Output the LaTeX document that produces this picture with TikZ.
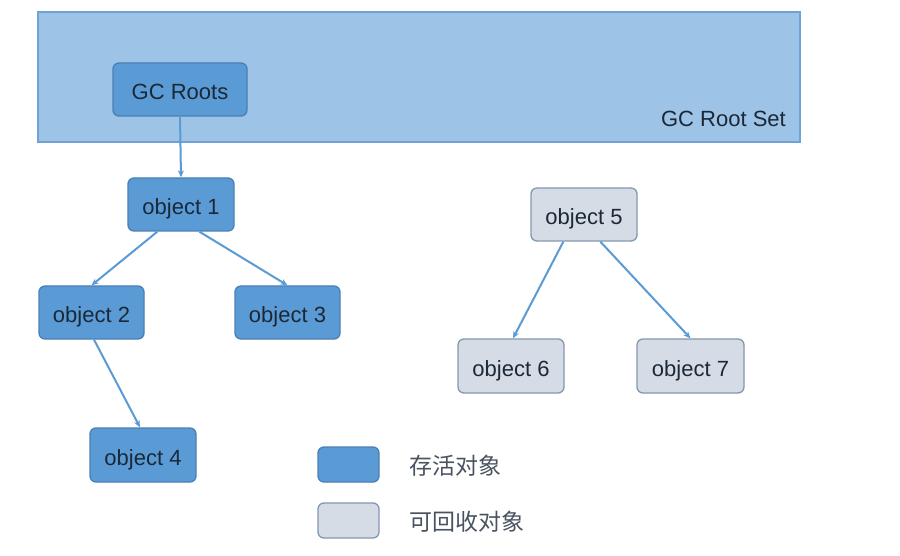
\documentclass[tikz,border=0pt]{standalone}
\usepackage{fontspec}
\setmainfont{Liberation Sans}
\newfontfamily\cjk{Noto Sans CJK SC}
\usetikzlibrary{arrows.meta}
\definecolor{liveF}{HTML}{5B9BD5}
\definecolor{liveD}{HTML}{4A80B4}
\definecolor{deadF}{HTML}{D6DCE5}
\definecolor{deadD}{HTML}{8497B0}
\definecolor{setF}{HTML}{9DC3E6}
\definecolor{setD}{HTML}{6FA3D6}
\definecolor{txt}{HTML}{1B2838}
\tikzset{
  box/.style={rounded corners=6pt, line width=1.3pt, inner sep=0pt, text=txt,
    font=\fontsize{22}{26}\selectfont, text height=20pt, text depth=0pt},
  live/.style={box, fill=liveF, draw=liveD},
  dead/.style={box, fill=deadF, draw=deadD},
  conn/.style={draw=liveF, line width=2pt, -{Stealth[length=7pt,width=6pt]}},
}
\begin{document}
\begin{tikzpicture}[x=1pt,y=-1pt]
\useasboundingbox (0,0) rectangle (900,556);
\fill[white] (0,0) rectangle (900,556);
% root set
\node[fill=setF, draw=setD, line width=1.3pt, minimum width=762pt, minimum height=130pt, inner sep=0pt] (set) at (419,77) {};
\node[anchor=east, text=txt, font=\fontsize{22}{26}\selectfont, inner sep=0pt] (setlbl) at (786,119) {GC Root Set};
% nodes
\node[live, minimum width=134pt, minimum height=53pt] (roots) at (180,89.5) {GC Roots};
\node[live, minimum width=106pt, minimum height=53pt] (o1) at (181,204.5) {object 1};
\node[live, minimum width=105pt, minimum height=53pt] (o2) at (91.5,312.5) {object 2};
\node[live, minimum width=105pt, minimum height=53pt] (o3) at (287.5,312.5) {object 3};
\node[live, minimum width=106pt, minimum height=54pt] (o4) at (143,455) {object 4};
\node[dead, minimum width=106pt, minimum height=53pt] (o5) at (584,214.5) {object 5};
\node[dead, minimum width=106pt, minimum height=54pt] (o6) at (511,366) {object 6};
\node[dead, minimum width=107pt, minimum height=54pt] (o7) at (690.5,366) {object 7};
% connector end points
\path (o1.south west) ++(30,0) coordinate (s12);
\path (o2.north) coordinate (e12);
\path (o1.south west) ++(72,0) coordinate (s13);
\path (o3.north) coordinate (e13);
\path (o2.south) ++(2.5,0) coordinate (s24);
\path (o4.north) ++(-3,0) coordinate (e24);
\path (o5.south west) ++(33,0) coordinate (s56);
\path (o6.north) ++(2,0) coordinate (e56);
\path (o5.south west) ++(70,0) coordinate (s57);
\path (o7.north) coordinate (e57);
% connectors
\draw[conn] (roots.south) -- (o1.north);
\draw[conn] (s12) -- (e12);
\draw[conn] (s13) -- (e13);
\draw[conn] (s24) -- (e24);
\draw[conn] (s56) -- (e56);
\draw[conn] (s57) -- (e57);
% legend
\node[live, minimum width=61pt, minimum height=35pt] (lg1) at (348.5,464.5) {};
\node[dead, minimum width=61pt, minimum height=35pt] (lg2) at (348.5,520.5) {};
\node[anchor=west, text=txt!80, font=\cjk\fontsize{23}{27}\selectfont, inner sep=0pt] (lt1) at (409,466) {存活对象};
\node[anchor=west, text=txt!80, font=\cjk\fontsize{23}{27}\selectfont, inner sep=0pt] (lt2) at (409,522) {可回收对象};
\end{tikzpicture}
\end{document}
